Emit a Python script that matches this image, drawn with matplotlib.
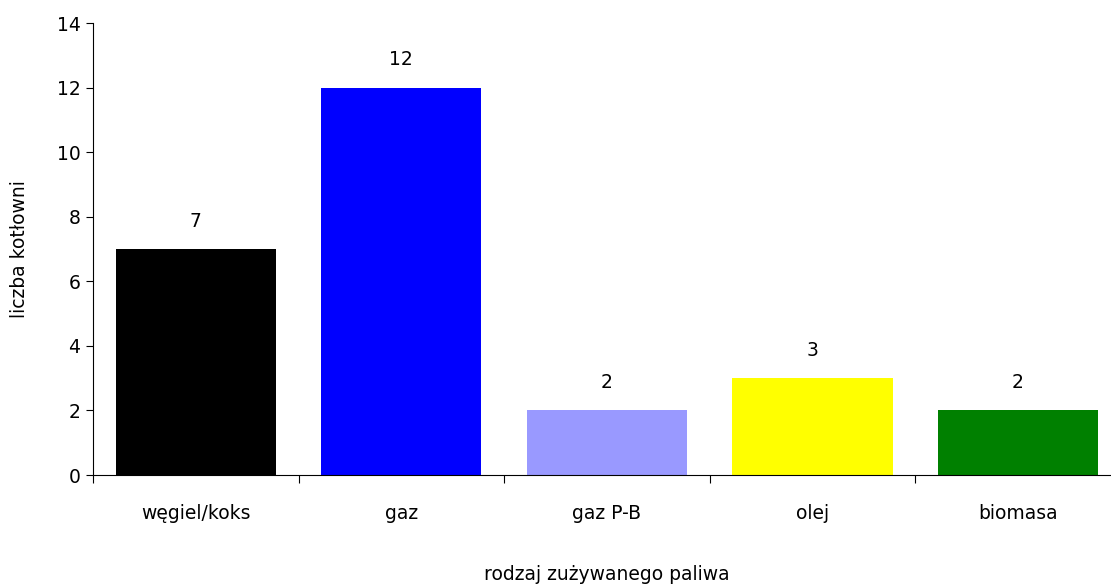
import matplotlib
matplotlib.use("Agg")
import matplotlib.pyplot as plt
import numpy as np

categories = ["węgiel/koks", "gaz", "gaz P-B", "olej", "biomasa"]
counts = [7, 12, 2, 3, 2]
colors = ["#000000", "#0000FF", "#9999FF", "#FFFF00", "#008000"]

plt.rcParams["font.family"] = ["DejaVu Sans"]
fs = 13.5

fig = plt.figure(figsize=(11.11, 5.85), dpi=100)
ax = fig.add_axes([0.0837, 0.188, 0.925, 0.7726])

x = np.arange(len(categories))
bars = ax.bar(x, counts, width=0.78, color=colors, zorder=2)

for xi, v in zip(x, counts):
    ax.annotate(str(v), (xi, v), xytext=(0, 20), textcoords="offset points",
                ha="center", va="center", fontsize=fs)

ax.set_xlim(-0.5, len(categories) - 0.5)
ax.set_ylim(0, 14)
ax.set_yticks(range(0, 15, 2))

# tick marks between the categories, labels under the bars
ax.set_xticks(np.arange(len(categories) + 1) - 0.5)
ax.set_xticklabels([])
ax.set_xticks(x, minor=True)
ax.set_xticklabels(categories, minor=True)
ax.tick_params(axis="x", which="major", length=6, width=0.8, direction="out")
ax.tick_params(axis="x", which="minor", length=0, pad=21, labelsize=fs)
ax.tick_params(axis="y", length=5, width=0.8, labelsize=fs, pad=4)

for s in ["top", "right"]:
    ax.spines[s].set_visible(False)
for s in ["left", "bottom"]:
    ax.spines[s].set_linewidth(0.8)

ax.set_xlabel("rodzaj zużywanego paliwa", fontsize=fs, labelpad=30)
ax.set_ylabel("liczba kotłowni", fontsize=fs, labelpad=20)

fig.savefig("out.png", dpi=100)
